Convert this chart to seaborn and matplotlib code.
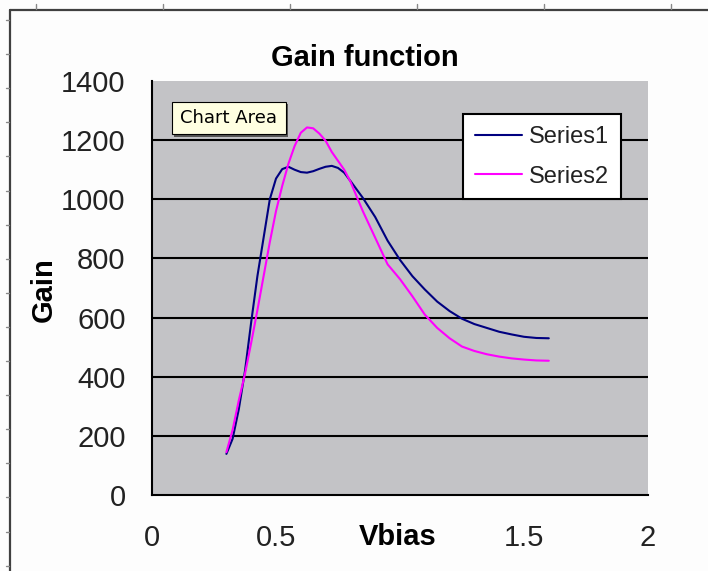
import numpy as np
import pandas as pd
import matplotlib
matplotlib.use("Agg")
import matplotlib.pyplot as plt
import seaborn as sns
from matplotlib.lines import Line2D
from matplotlib.patches import Rectangle

# Bias voltage sweep and measured gain for two devices
vbias = [0.30, 0.325, 0.35, 0.375, 0.40, 0.425, 0.45, 0.475, 0.50, 0.525,
         0.55, 0.575, 0.60, 0.625, 0.65, 0.675, 0.70, 0.725, 0.75, 0.775,
         0.80, 0.85, 0.90, 0.95, 1.00, 1.05, 1.10, 1.15, 1.20, 1.25,
         1.30, 1.35, 1.40, 1.45, 1.50, 1.55, 1.60]
series1 = [139, 190, 290, 420, 585, 740, 870, 1000, 1070, 1102,
           1110, 1100, 1092, 1090, 1095, 1103, 1110, 1113, 1106, 1090,
           1062, 1005, 940, 860, 795, 740, 695, 654, 622, 596,
           578, 565, 552, 543, 535, 531, 530]
series2 = [145, 220, 320, 410, 515, 625, 740, 855, 960, 1045,
           1120, 1180, 1225, 1243, 1240, 1222, 1198, 1160, 1130, 1100,
           1060, 960, 870, 780, 730, 672, 610, 565, 530, 502,
           487, 476, 468, 462, 458, 455, 454]
series_names = ["Series1", "Series2"]
x_ticks = [0, 0.5, 1, 1.5, 2]
# the axis title sits over the "1" position, so that tick carries no label
x_tick_labels = ["0", "0.5", "", "1.5", "2"]
y_ticks = [0, 200, 400, 600, 800, 1000, 1200, 1400]

df = pd.DataFrame({
    "Vbias": vbias * 2,
    "Gain": series1 + series2,
    "series": [series_names[0]] * len(vbias) + [series_names[1]] * len(vbias),
})

sns.set_theme(style="white")
plt.rcParams["font.family"] = ["Liberation Sans", "DejaVu Sans"]

W, H = 708, 571
fig = plt.figure(figsize=(W / 100, H / 100), dpi=100, facecolor="#fdfdfd")

def fx(px):
    return px / W

def fy(py):
    return 1 - py / H

ax = fig.add_axes([fx(152), fy(495), fx(648) - fx(152), fy(81) - fy(495)])
ax.set_facecolor("#c3c3c6")

# horizontal gridlines
for g in y_ticks[1:-1]:
    ax.axhline(g, color="black", lw=1.5, zorder=1)

sns.lineplot(data=df, x="Vbias", y="Gain", hue="series",
             palette={"Series1": "#000080", "Series2": "#ff00ff"},
             lw=1.5, ax=ax, zorder=3)

ax.set_xlim(0, 2)
ax.set_ylim(0, 1400)
ax.set_xticks(x_ticks)
ax.set_xticklabels(x_tick_labels)
ax.set_yticks(y_ticks)
ax.set_xlabel("")
ax.set_ylabel("")
for s in ["top", "right"]:
    ax.spines[s].set_visible(False)
for s in ["left", "bottom"]:
    ax.spines[s].set_color("black")
    ax.spines[s].set_linewidth(1.5)
ax.tick_params(axis="both", which="major", direction="out", length=7,
               width=1.5, color="black", labelsize=21, labelcolor="#222222")
ax.tick_params(axis="y", pad=12)
ax.tick_params(axis="x", pad=14)

leg = ax.legend(loc="upper left", bbox_to_anchor=(fx(463), fy(114)),
                bbox_transform=fig.transFigure, frameon=True, fancybox=False,
                edgecolor="black", facecolor="white", framealpha=1,
                fontsize=17, handlelength=2.0, handletextpad=0.3,
                labelspacing=0.75, borderpad=0.5, borderaxespad=0)
leg.get_frame().set_linewidth(1.5)
for t in leg.get_texts():
    t.set_color("#222222")
for h in leg.get_lines():
    h.set_linewidth(1.5)

# titles
fig.text(fx(365), fy(66), "Gain function", ha="center", va="baseline",
         fontsize=21, fontweight="bold", color="black")
fig.text(fx(398), fy(545), "Vbias", ha="center", va="baseline",
         fontsize=21, fontweight="bold", color="black")
fig.text(fx(44), fy(290), "Gain", ha="center", va="center", rotation=90,
         fontsize=21, fontweight="bold", color="black")

# "Chart Area" tooltip
fig.patches.append(Rectangle((fx(174), fy(137)), fx(288) - fx(174), fy(104) - fy(137),
                             transform=fig.transFigure, facecolor="#555555",
                             edgecolor="none", zorder=5))
fig.patches.append(Rectangle((fx(172), fy(134)), fx(286) - fx(172), fy(102) - fy(134),
                             transform=fig.transFigure, facecolor="#ffffe1",
                             edgecolor="black", lw=0.8, zorder=6))
fig.text(fx(229), fy(118), "Chart Area", ha="center", va="center",
         fontsize=13, family="DejaVu Sans", color="black", zorder=7)

# outer window frame with ruler marks
frame_color = "#404040"
fig.add_artist(Line2D([fx(10), fx(10)], [fy(10), fy(571)], transform=fig.transFigure,
                      color=frame_color, lw=1.6))
fig.add_artist(Line2D([fx(10), fx(708)], [fy(10), fy(10)], transform=fig.transFigure,
                      color=frame_color, lw=1.6))
for x in np.arange(36, 708, 127):
    fig.add_artist(Line2D([fx(x), fx(x)], [fy(4), fy(9)], transform=fig.transFigure,
                          color="#888888", lw=1))
for y in np.arange(20, 571, 34.1):
    fig.add_artist(Line2D([fx(6), fx(9)], [fy(y), fy(y)], transform=fig.transFigure,
                          color="#888888", lw=1))

fig.savefig("out.png", dpi=100, facecolor=fig.get_facecolor())
